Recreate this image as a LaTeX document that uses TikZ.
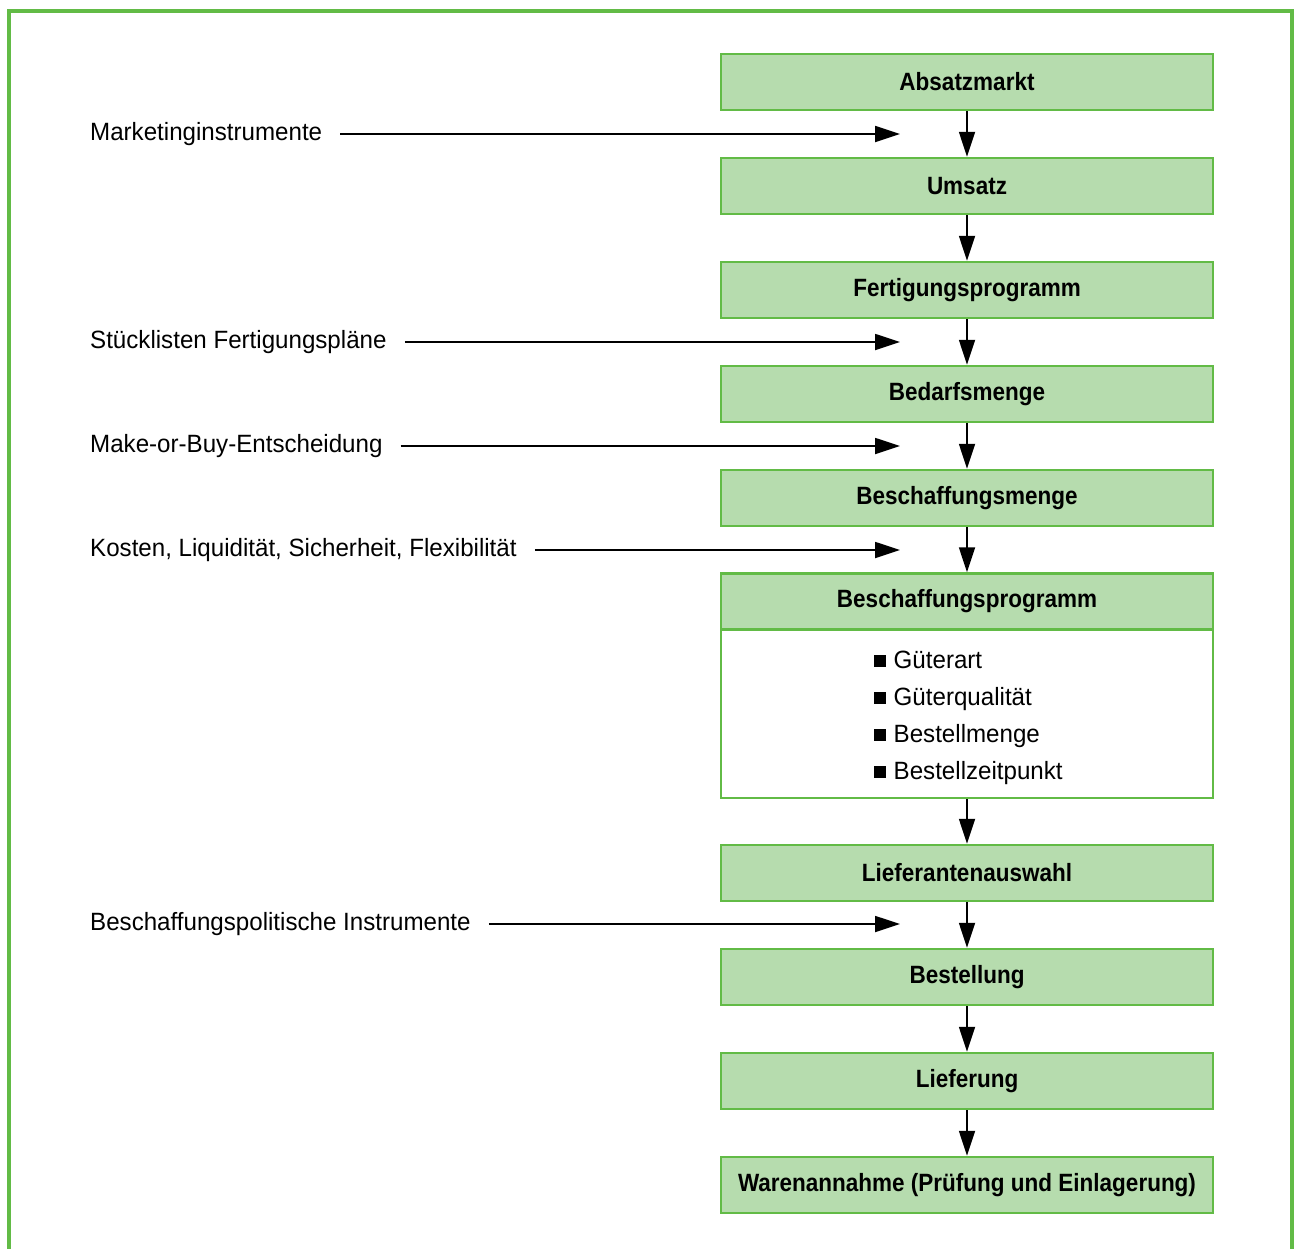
\documentclass[tikz,border=0pt]{standalone}
\usepackage{fontspec}
\setmainfont[FakeStretch=0.965, BoldFeatures={FakeStretch=0.9}]{Liberation Sans}
\usetikzlibrary{arrows.meta}
\definecolor{frameGreen}{HTML}{62BB46}
\definecolor{boxFill}{HTML}{B6DCAE}
\newcommand{\sqbullet}{\raisebox{1.5pt}{\rule{11.5pt}{11.5pt}}\hspace{8pt}}

\begin{document}
\begin{tikzpicture}[x=1pt,y=-1pt,
  stage/.style={draw=frameGreen, fill=boxFill, line width=2.5pt,
    minimum width=492pt, minimum height=56pt, inner sep=0pt,
    font=\fontsize{25}{29}\selectfont\bfseries},
  listbody/.style={draw=frameGreen, fill=white, line width=2.5pt,
    minimum width=492pt, minimum height=168.5pt, inner sep=0pt, anchor=north},
  flow/.style={line width=1.8pt, -{Triangle[length=25pt,width=16pt]}},
  side/.style={anchor=base west, inner sep=0pt,
    font=\fontsize{25}{29}\selectfont},
  item/.style={anchor=base west, inner sep=0pt,
    font=\fontsize{25}{29}\selectfont}]

\useasboundingbox (0,0) rectangle (1295,1248);

% outer frame (open at the bottom)
\draw[frameGreen, line width=3.5pt] (9,1270) -- (9,11) -- (1292,11) -- (1292,1270);

% main chain of stages
\node[stage] (absatz)  at (967,82)   {Absatzmarkt};
\node[stage] (umsatz)  at (967,186)  {Umsatz};
\node[stage] (fert)    at (967,290)  {Fertigungsprogramm};
\node[stage] (bedarf)  at (967,394)  {Bedarfsmenge};
\node[stage] (bmenge)  at (967,498)  {Beschaffungsmenge};
\node[stage] (bprog)   at (967,601.5){Beschaffungsprogramm};
% list part shares its top border with the header
\node[listbody] (bbody) at ([yshift=2.5pt]bprog.south) {};
\node[stage] (liefaus) at (967,873)  {Lieferantenauswahl};
\node[stage] (bestell) at (967,977)  {Bestellung};
\node[stage] (liefer)  at (967,1081) {Lieferung};
\node[stage] (waren)   at (967,1185) {Warenannahme (Prüfung und Einlagerung)};

% contents of the procurement programme
\node[item] (i1) at (874,668) {\sqbullet Güterart};
\node[item] (i2) at (874,705) {\sqbullet Güterqualität};
\node[item] (i3) at (874,742) {\sqbullet Bestellmenge};
\node[item] (i4) at (874,779) {\sqbullet Bestellzeitpunkt};

% vertical flow
\draw[flow] (absatz) -- (umsatz);
\draw[flow] (umsatz) -- (fert);
\draw[flow] (fert) -- (bedarf);
\draw[flow] (bedarf) -- (bmenge);
\draw[flow] (bmenge) -- (bprog);
\draw[flow] (bbody) -- (liefaus);
\draw[flow] (liefaus) -- (bestell);
\draw[flow] (bestell) -- (liefer);
\draw[flow] (liefer) -- (waren);

% influencing factors from the left
\node[side] (lmark) at (90,140) {Marketinginstrumente};
\node[side] (lstue) at (90,348) {Stücklisten Fertigungspläne};
\node[side] (lmake) at (90,452) {Make-or-Buy-Entscheidung};
\node[side] (lkost) at (90,556) {Kosten, Liquidität, Sicherheit, Flexibilität};
\node[side] (lbesch) at (90,930) {Beschaffungspolitische Instrumente};

\coordinate (tmark)  at (900,134);
\coordinate (tstue)  at (900,342);
\coordinate (tmake)  at (900,446);
\coordinate (tkost)  at (900,550);
\coordinate (tbesch) at (900,924);

\draw[flow] ([xshift=18pt]lmark.east |- tmark) -- (tmark);
\draw[flow] ([xshift=18pt]lstue.east |- tstue) -- (tstue);
\draw[flow] ([xshift=18pt]lmake.east |- tmake) -- (tmake);
\draw[flow] ([xshift=18pt]lkost.east |- tkost) -- (tkost);
\draw[flow] ([xshift=18pt]lbesch.east |- tbesch) -- (tbesch);
\end{tikzpicture}
\end{document}
